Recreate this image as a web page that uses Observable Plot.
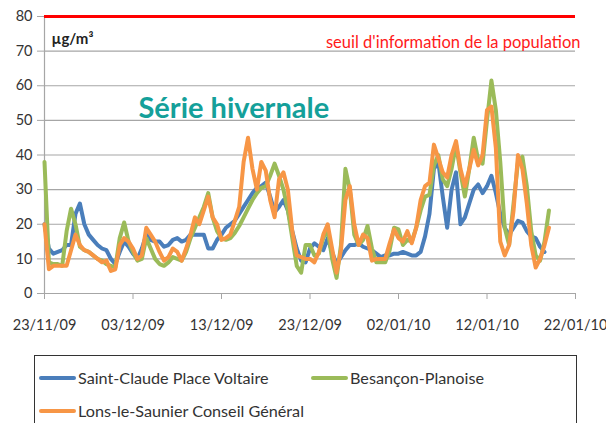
<!DOCTYPE html>
<html><head><meta charset="utf-8">
<script src="https://cdn.jsdelivr.net/npm/d3@7"></script>
<script src="https://cdn.jsdelivr.net/npm/@observablehq/plot@0.6"></script>
<style>
html,body{margin:0;padding:0;background:#fff;overflow:hidden;}
#wrap{position:relative;width:606px;height:423px;font-family:Lato,"Open Sans",sans-serif;}
#legend{position:absolute;left:34px;top:355px;width:543px;height:90px;border:1.5px solid #333;box-sizing:border-box;}
.item{position:absolute;display:flex;align-items:center;font-size:16.2px;color:#333;white-space:nowrap;}
.sw{width:37px;height:4px;margin-right:2px;border-radius:2px;}
</style></head>
<body><div id="wrap"></div>
<script>
const startDate = "2009-11-23";
const endDate = "2010-01-22";
const tickDates = ["2009-11-23","2009-12-03","2009-12-13","2009-12-23","2010-01-02","2010-01-12","2010-01-22"];
const yTicks = [0,10,20,30,40,50,60,70,80];
const gridValues = [10,20,30,40,50,60,70];
const threshold = 80;
const seriesNames = ["Saint-Claude Place Voltaire","Besançon-Planoise","Lons-le-Saunier Conseil Général"];
const seriesColors = ["#4a7ebb","#9bbb59","#f79646"];
const unitLabel = "µg/m³";
const thresholdLabel = "seuil d'information de la population";
const titleLabel = "Série hivernale";

// half-day values starting 23/11/09
const saintClaude = [20,13,11.5,12,12.5,14,14,23,26,20,17,15.5,14,13,12.5,10,8.5,12,15,13.5,
 11.5,10,13,17,15.5,15,15,13.5,14,15.5,16,15,15.5,17,17,17,17,13,13,15.5,
 17,19,20,21,23,25,27,29,30.5,31,32,28,23.5,25,27,24,18,13,9.5,9,
 13,14.5,13.5,12.5,16,12,8.5,10.5,12.5,14,14,14.5,13.5,13,12.5,11.5,10.5,11,11,11.5,
 11.5,12,11.5,11,11,12,16.5,23,36,38,28,19,30,35,20,22,26,30,31.5,29,
 31,34,29,23,19,17,19,21,20.5,18,16.5,16,13.5,12];
const besancon = [38,9,8.5,8.5,8,18,24.5,20,13.5,12.5,12,11,10,9.5,8.5,8,7.5,16,20.5,15,
 12,9.5,10,16,13,10,8.5,8,9,10.5,10,9.5,12,16,19,22,25,29,22,18,
 16,15.5,16,17.5,19.5,22,24.5,27,29,30.5,31,34,37.5,34,30,24,16,8,6,14,
 14,11,11.5,16,18.5,10,4.5,14,36,30,17,14,15.5,19.5,13,9,9,9,12.5,19,
 18.5,14,15.5,15,19,24,28,28.5,37,40,33,31,36,43,35,28,36,45,38.6,37.5,
 50,61.5,53,38,19,14,26,38,39.5,31,18,11,9.5,15,24];
const lonsLeSaunier = [20,7,8,8,8,8,12.5,17,14,12.5,12,11,10,9,9.5,6.5,7,14,16,15,
 13,10,11,19,17,15,12,9.5,10.5,13,12,9.5,13,17,22,20,24,28,22,20,
 15.5,16,17,21,25,38,45,36,30,38,35.5,27,22,33,35,30,18,11,10.5,10,
 10,9,12,17,20,13,6,12.5,27,31,20,14,17,16,9.5,10,10,10,14.5,18.5,
 16,15,18,14.5,19,27,31,32,43,39,35,33.5,40,44,36,31,36,41.5,37,40,
 53,54,42,15,11,14,24,40,36,26,14,7.5,10,14,19];

const seriesValues = [saintClaude, besancon, lonsLeSaunier];
const t0 = new Date(startDate + "T00:00:00Z").getTime();
const halfDay = 12 * 3600 * 1000;
const rows = [];
seriesValues.forEach((vals, s) => vals.forEach((v, i) => rows.push({date: new Date(t0 + i * halfDay), value: v, series: seriesNames[s]})));

const fmt = d3.utcFormat("%d/%m/%y");
const chart = Plot.plot({
  width: 606, height: 345,
  marginLeft: 44, marginRight: 31, marginTop: 16, marginBottom: 52,
  style: {fontFamily: "Lato, 'Open Sans', sans-serif", fontSize: "14px", color: "#333", background: "#fff", overflow: "visible"},
  x: {type: "utc", domain: [new Date(startDate), new Date(endDate)], ticks: tickDates.map(d => new Date(d)), tickFormat: fmt, label: null},
  y: {domain: [0, 80], ticks: yTicks, label: null},
  color: {domain: seriesNames, range: seriesColors},
  marks: [
    Plot.ruleY(gridValues, {stroke: "#a6a6a6", strokeWidth: 1.2}),
    Plot.ruleX([new Date(startDate)], {stroke: "#a6a6a6", strokeWidth: 1.2}),
    Plot.ruleY([0], {stroke: "#a6a6a6", strokeWidth: 1.2}),
    Plot.axisY({ticks: yTicks, tickSize: 7, tickPadding: 5, stroke: "#a6a6a6", fontSize: 14.5, fill: "#333"}),
    Plot.axisX({ticks: tickDates.map(d => new Date(d)), tickFormat: fmt, tickSize: 6, tickPadding: 20, stroke: "#a6a6a6", fontSize: 14.5, fill: "#333"}),
    Plot.ruleY([threshold], {stroke: "#ff0000", strokeWidth: 3}),
    Plot.line(rows, {x: "date", y: "value", z: "series", stroke: "series", strokeWidth: 4, strokeLinejoin: "round", strokeLinecap: "round"}),
    Plot.text([titleLabel], {frameAnchor: "top-left", dx: 94, dy: 81, fill: "#14a09a", fontSize: 29, fontWeight: "bold", textAnchor: "start", text: d => d}),
    Plot.text([unitLabel], {frameAnchor: "top-left", dx: 7, dy: 17, fill: "#222", fontSize: 15, fontWeight: "bold", textAnchor: "start", text: d => d}),
    Plot.text([thresholdLabel], {frameAnchor: "top-right", dx: 5, dy: 20, fill: "#ff1a1a", fontSize: 16.5, textAnchor: "end", text: d => d})
  ]
});
const wrap = document.getElementById("wrap");
wrap.appendChild(chart);
const legend = document.createElement("div");
legend.id = "legend";
const pos = [[4, 12], [276, 12], [4, 45]];
seriesNames.forEach((n, i) => {
  const it = document.createElement("div");
  it.className = "item";
  it.style.left = pos[i][0] + "px";
  it.style.top = pos[i][1] + "px";
  it.innerHTML = `<span class="sw" style="background:${seriesColors[i]}"></span><span>${n}</span>`;
  legend.appendChild(it);
});
wrap.appendChild(legend);
</script></body></html>
